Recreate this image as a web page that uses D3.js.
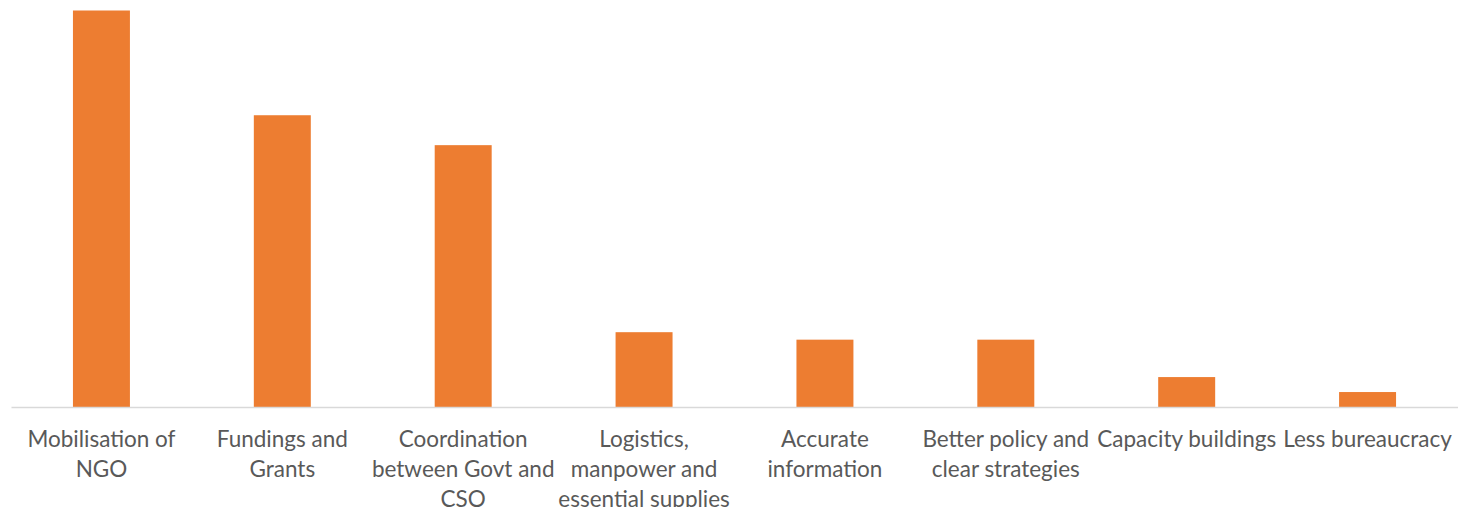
<!DOCTYPE html>
<html>
<head>
<meta charset="utf-8">
<script src="https://cdn.jsdelivr.net/npm/d3@7"></script>
<style>
  html, body { margin: 0; padding: 0; background: #fff; }
  svg { display: block; }
  .lbl { font-family: Lato, "Open Sans", sans-serif; font-size: 22.5px; fill: #595959; }
</style>
</head>
<body>
<svg id="chart" width="1458" height="507"></svg>
<script>
// Categories, with how each label breaks onto lines
const categories = [
  "Mobilisation of NGO",
  "Fundings and Grants",
  "Coordination between Govt and CSO",
  "Logistics, manpower and essential supplies",
  "Accurate information",
  "Better policy and clear strategies",
  "Capacity buildings",
  "Less bureaucracy"
];
const labelLines = [
  ["Mobilisation of", "NGO"],
  ["Fundings and", "Grants"],
  ["Coordination", "between Govt and", "CSO"],
  ["Logistics,", "manpower and", "essential supplies"],
  ["Accurate", "information"],
  ["Better policy and", "clear strategies"],
  ["Capacity buildings"],
  ["Less bureaucracy"]
];
const values = [53, 39, 35, 10, 9, 9, 4, 2];

const svg = d3.select("#chart");
const baseY = 407;

const x = d3.scaleBand()
  .domain(categories)
  .range([11, 1458])
  .paddingInner(0.685)
  .paddingOuter(0.3425);

const y = d3.scaleLinear()
  .domain([0, 53])
  .range([baseY, 10.5]);

// Bars
svg.append("g")
  .selectAll("rect")
  .data(values)
  .join("rect")
  .attr("x", (d, i) => x(categories[i]))
  .attr("y", d => y(d))
  .attr("width", x.bandwidth())
  .attr("height", d => y(0) - y(d))
  .attr("fill", "#ED7D31");

// Category axis
const axis = svg.append("g")
  .attr("transform", `translate(0,${baseY})`)
  .call(d3.axisBottom(x).tickSize(0).tickFormat(""));
axis.select(".domain")
  .attr("stroke", "#d9d9d9")
  .attr("stroke-width", 1.5);

// Wrapped category labels
axis.selectAll(".tick").each(function(d, i) {
  const t = d3.select(this).append("text")
    .attr("class", "lbl")
    .attr("text-anchor", "middle")
    .attr("y", 0);
  labelLines[i].forEach((line, j) => {
    t.append("tspan")
      .attr("x", 0)
      .attr("y", 39.5 + j * 30)
      .text(line);
  });
});
</script>
</body>
</html>
